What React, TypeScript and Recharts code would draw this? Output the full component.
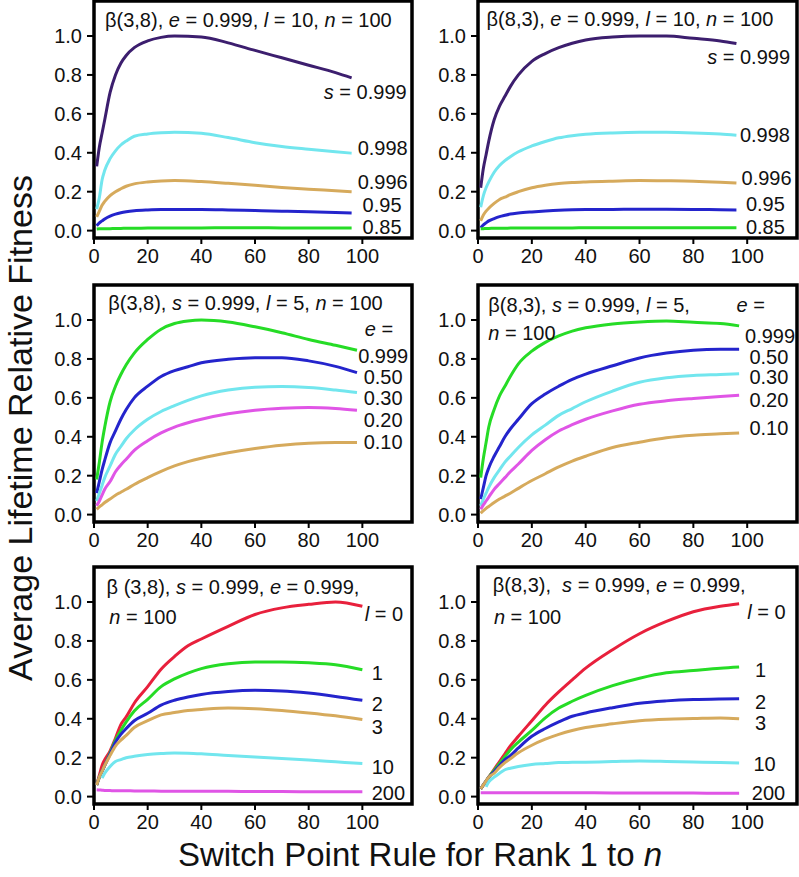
import React from 'react'
import { LineChart, Line, XAxis, YAxis, ReferenceArea, ReferenceDot } from 'recharts'

const FONT = '"Liberation Sans", Arial, Helvetica, sans-serif'

const PURPLE = '#3c1e6e'
const CYAN = '#72e6ee'
const TAN = '#d6aa5c'
const BLUE = '#2424cc'
const GREEN = '#26dc26'
const MAGENTA = '#e055e6'
const RED = '#e8203c'

const X_TICKS = [0, 20, 40, 60, 80, 100]
const Y_TICKS = [0, 0.2, 0.4, 0.6, 0.8, 1.0]
const X_MAX = 118.5
const Y_MIN = -0.038
const Y_MAX = 1.18

// top left: beta(3,8), e = 0.999, l = 10, n = 100
const p1X = [1, 2, 3, 4, 6, 8, 10, 12, 15, 20, 25, 30, 40, 50, 60, 70, 80, 90, 96]
const p1S999 = [0.33, 0.43, 0.5, 0.57, 0.71, 0.8, 0.86, 0.9, 0.94, 0.975, 0.993, 1.0, 0.995, 0.965, 0.926, 0.888, 0.85, 0.812, 0.785]
const p1S998 = [0.11, 0.17, 0.26, 0.31, 0.37, 0.41, 0.44, 0.46, 0.485, 0.497, 0.503, 0.506, 0.5, 0.478, 0.452, 0.432, 0.418, 0.405, 0.398]
const p1S996 = [0.07, 0.1, 0.13, 0.15, 0.18, 0.2, 0.215, 0.228, 0.24, 0.25, 0.255, 0.257, 0.252, 0.243, 0.233, 0.222, 0.213, 0.205, 0.2]
const p1S95 = [0.025, 0.04, 0.05, 0.06, 0.075, 0.085, 0.092, 0.097, 0.102, 0.106, 0.108, 0.108, 0.108, 0.106, 0.103, 0.1, 0.097, 0.093, 0.09]
const p1S85 = [0.008, 0.009, 0.009, 0.01, 0.01, 0.011, 0.011, 0.012, 0.012, 0.013, 0.013, 0.014, 0.014, 0.015, 0.015, 0.014, 0.014, 0.013, 0.013]

// top right: beta(8,3), e = 0.999, l = 10, n = 100
const p2X = [1, 2, 3, 4, 6, 8, 10, 12, 15, 20, 25, 30, 35, 40, 50, 60, 70, 80, 90, 96]
const p2S999 = [0.22, 0.32, 0.39, 0.46, 0.57, 0.64, 0.69, 0.74, 0.8, 0.87, 0.91, 0.94, 0.963, 0.98, 0.995, 1.0, 1.0, 0.988, 0.975, 0.962]
const p2S998 = [0.12, 0.18, 0.22, 0.25, 0.3, 0.335, 0.36, 0.38, 0.405, 0.435, 0.458, 0.477, 0.488, 0.495, 0.502, 0.505, 0.505, 0.502, 0.496, 0.49]
const p2S996 = [0.05, 0.08, 0.1, 0.115, 0.14, 0.16, 0.172, 0.185, 0.2, 0.22, 0.233, 0.242, 0.247, 0.25, 0.254, 0.257, 0.256, 0.254, 0.249, 0.245]
const p2S95 = [0.015, 0.03, 0.04, 0.05, 0.062, 0.072, 0.079, 0.085, 0.09, 0.096, 0.101, 0.105, 0.107, 0.108, 0.109, 0.11, 0.11, 0.109, 0.107, 0.106]
const p2S85 = [0.01, 0.01, 0.011, 0.011, 0.012, 0.012, 0.012, 0.013, 0.013, 0.013, 0.014, 0.014, 0.014, 0.015, 0.015, 0.015, 0.015, 0.015, 0.015, 0.015]

// middle left: beta(3,8), s = 0.999, l = 5, n = 100
const p3X = [1, 2, 3, 4, 6, 8, 10, 12, 15, 20, 25, 30, 35, 40, 50, 60, 70, 80, 90, 98]
const p3E999 = [0.18, 0.27, 0.37, 0.45, 0.58, 0.66, 0.72, 0.77, 0.83, 0.9, 0.953, 0.982, 0.995, 1.0, 0.99, 0.965, 0.935, 0.9, 0.87, 0.845]
const p3E50 = [0.11, 0.17, 0.23, 0.28, 0.37, 0.43, 0.49, 0.54, 0.6, 0.66, 0.71, 0.74, 0.76, 0.78, 0.798, 0.806, 0.806, 0.79, 0.762, 0.73]
const p3E30 = [0.07, 0.11, 0.15, 0.19, 0.25, 0.31, 0.35, 0.39, 0.435, 0.49, 0.53, 0.56, 0.587, 0.61, 0.64, 0.655, 0.658, 0.653, 0.64, 0.627]
const p3E20 = [0.045, 0.07, 0.1, 0.13, 0.17, 0.22, 0.255, 0.285, 0.33, 0.38, 0.42, 0.45, 0.472, 0.49, 0.518, 0.536, 0.546, 0.55, 0.545, 0.536]
const p3E10 = [0.027, 0.04, 0.05, 0.062, 0.08, 0.1, 0.115, 0.13, 0.155, 0.19, 0.222, 0.25, 0.272, 0.29, 0.318, 0.34, 0.357, 0.367, 0.37, 0.37]

// middle right: beta(8,3), s = 0.999, l = 5, n = 100
const p4X = [1, 2, 3, 4, 6, 8, 10, 12, 15, 20, 25, 30, 35, 40, 50, 60, 70, 80, 90, 97]
const p4E999 = [0.19, 0.29, 0.37, 0.45, 0.54, 0.61, 0.66, 0.71, 0.775, 0.84, 0.885, 0.918, 0.943, 0.96, 0.98, 0.99, 0.995, 0.988, 0.982, 0.97]
const p4E50 = [0.08, 0.14, 0.2, 0.24, 0.3, 0.35, 0.4, 0.44, 0.49, 0.57, 0.62, 0.66, 0.695, 0.722, 0.765, 0.805, 0.83, 0.845, 0.85, 0.85]
const p4E30 = [0.045, 0.08, 0.11, 0.14, 0.19, 0.23, 0.27, 0.3, 0.345, 0.41, 0.46, 0.51, 0.545, 0.58, 0.635, 0.68, 0.703, 0.715, 0.72, 0.724]
const p4E20 = [0.027, 0.05, 0.07, 0.09, 0.13, 0.16, 0.19, 0.22, 0.26, 0.33, 0.385, 0.43, 0.462, 0.49, 0.533, 0.567, 0.585, 0.597, 0.607, 0.613]
const p4E10 = [0.007, 0.02, 0.032, 0.042, 0.062, 0.08, 0.095, 0.11, 0.135, 0.175, 0.21, 0.245, 0.275, 0.3, 0.345, 0.372, 0.395, 0.408, 0.415, 0.42]

// bottom left: beta(3,8), s = 0.999, e = 0.999, n = 100
const p5X = [1, 2, 3, 4, 6, 8, 10, 12, 15, 20, 25, 30, 35, 40, 50, 60, 70, 80, 90, 100]
const p5L0 = [0.06, 0.11, 0.16, 0.19, 0.235, 0.3, 0.37, 0.41, 0.48, 0.565, 0.655, 0.72, 0.775, 0.81, 0.875, 0.936, 0.97, 0.988, 1.0, 0.978]
const p5L1 = [0.06, 0.1, 0.13, 0.16, 0.225, 0.29, 0.34, 0.384, 0.44, 0.5, 0.565, 0.605, 0.635, 0.658, 0.683, 0.692, 0.692, 0.688, 0.678, 0.652]
const p5L2 = [0.06, 0.1, 0.13, 0.16, 0.22, 0.28, 0.32, 0.35, 0.39, 0.428, 0.47, 0.495, 0.512, 0.525, 0.54, 0.546, 0.543, 0.532, 0.515, 0.495]
const p5L3 = [0.06, 0.1, 0.13, 0.16, 0.212, 0.26, 0.29, 0.315, 0.355, 0.39, 0.42, 0.432, 0.443, 0.448, 0.455, 0.452, 0.443, 0.43, 0.415, 0.396]
const p5L10 = [null, null, 0.095, 0.12, 0.155, 0.18, 0.19, 0.2, 0.207, 0.216, 0.221, 0.224, 0.223, 0.22, 0.211, 0.203, 0.196, 0.188, 0.179, 0.17]
const p5L200 = [0.035, 0.034, 0.033, 0.032, 0.031, 0.03, 0.03, 0.03, 0.029, 0.029, 0.028, 0.028, 0.028, 0.027, 0.027, 0.026, 0.026, 0.025, 0.025, 0.025]

// bottom right: beta(8,3), s = 0.999, e = 0.999, n = 100
const p6X = [1, 2, 3, 4, 6, 8, 10, 12, 15, 20, 25, 30, 35, 40, 50, 60, 70, 80, 90, 97]
const p6L0 = [0.04, 0.06, 0.08, 0.1, 0.14, 0.18, 0.22, 0.26, 0.31, 0.39, 0.47, 0.538, 0.6, 0.66, 0.755, 0.837, 0.9, 0.95, 0.978, 0.991]
const p6L1 = [0.04, 0.06, 0.08, 0.1, 0.135, 0.17, 0.205, 0.24, 0.28, 0.34, 0.405, 0.455, 0.49, 0.52, 0.57, 0.608, 0.636, 0.648, 0.66, 0.666]
const p6L2 = [0.04, 0.06, 0.08, 0.1, 0.128, 0.16, 0.19, 0.21, 0.25, 0.31, 0.35, 0.384, 0.413, 0.43, 0.457, 0.48, 0.492, 0.499, 0.502, 0.503]
const p6L3 = [0.04, 0.06, 0.08, 0.1, 0.12, 0.15, 0.175, 0.195, 0.225, 0.264, 0.295, 0.32, 0.34, 0.355, 0.374, 0.39, 0.398, 0.401, 0.404, 0.4]
const p6L10 = [null, null, 0.05, 0.075, 0.1, 0.12, 0.138, 0.146, 0.155, 0.165, 0.17, 0.175, 0.176, 0.177, 0.18, 0.183, 0.181, 0.178, 0.175, 0.173]
const p6L200 = [0.02, 0.02, 0.02, 0.02, 0.02, 0.02, 0.02, 0.02, 0.02, 0.02, 0.02, 0.02, 0.02, 0.02, 0.019, 0.019, 0.018, 0.018, 0.017, 0.017]

type Part = [string, boolean?]
type Note = { parts: Part[]; x: number; y: number; anchor?: 'start' | 'end' }
type Series = { key: string; color: string; values: (number | null)[] }

const rowsOf = (xs: number[], series: Series[]) =>
  xs.map((x, i) => {
    const row: Record<string, number | null> = { x }
    series.forEach((s) => (row[s.key] = s.values[i]))
    return row
  })

function RichText({ cx, cy, parts, anchor }: { cx: number; cy: number; parts: Part[]; anchor: string }) {
  return (
    <text x={cx} y={cy} textAnchor={anchor} dominantBaseline="central" fontSize={20} fontFamily={FONT} fill="#111" style={{ whiteSpace: 'pre' }}>
      {parts.map(([t, it], i) => (
        <tspan key={i} fontStyle={it ? 'italic' : 'normal'}>{t}</tspan>
      ))}
    </text>
  )
}

const num = (t: string, x: number, y: number, anchor: 'start' | 'end' = 'end'): Note => ({ parts: [[t]], x, y, anchor })

function Panel({ left, top, plotW, series, xs, notes }: { left: number; top: number; plotW: number; series: Series[]; xs: number[]; notes: Note[] }) {
  const data = rowsOf(xs, series)
  return (
    <div style={{ position: 'absolute', left, top }}>
      <LineChart width={64 + plotW + 4} height={277} data={data} margin={{ top: 6, right: 4, bottom: 4, left: 0 }}>
        <XAxis
          dataKey="x"
          type="number"
          domain={[0, X_MAX]}
          ticks={X_TICKS}
          interval={0}
          height={30}
          axisLine={false}
          tickSize={6}
          tickMargin={5}
          tickLine={{ stroke: '#000', strokeWidth: 2 }}
          tick={{ fill: '#111', fontSize: 20, fontFamily: FONT }}
        />
        <YAxis
          type="number"
          domain={[Y_MIN, Y_MAX]}
          ticks={Y_TICKS}
          interval={0}
          width={64}
          allowDataOverflow
          axisLine={false}
          tickSize={7}
          tickMargin={5}
          tickFormatter={(v: number) => v.toFixed(1)}
          tickLine={{ stroke: '#000', strokeWidth: 2 }}
          tick={{ fill: '#111', fontSize: 20, fontFamily: FONT }}
        />
        {series.map((s) => (
          <Line key={s.key} dataKey={s.key} type="monotone" stroke={s.color} strokeWidth={3} dot={false} isAnimationActive={false} />
        ))}
        <ReferenceArea x1={0} x2={X_MAX} y1={Y_MIN} y2={Y_MAX} fill="none" stroke="#000" strokeWidth={3.5} />
        {notes.map((n, i) => (
          <ReferenceDot
            key={i}
            x={n.x}
            y={n.y}
            r={0}
            shape={(p: any) => <RichText cx={p.cx} cy={p.cy} parts={n.parts} anchor={n.anchor ?? 'end'} />}
          />
        ))}
      </LineChart>
    </div>
  )
}

const LEFT = 30
const RIGHT = 414
const ROWS = [-5, 279, 561]

export default function App() {
  return (
    <div style={{ position: 'absolute', left: 0, top: 0, width: 799, height: 877, overflow: 'hidden', background: '#fff' }}>
      <Panel
        left={LEFT}
        top={ROWS[0]}
        plotW={318}
        xs={p1X}
        series={[
          { key: 's999', color: PURPLE, values: p1S999 },
          { key: 's998', color: CYAN, values: p1S998 },
          { key: 's996', color: TAN, values: p1S996 },
          { key: 's95', color: BLUE, values: p1S95 },
          { key: 's85', color: GREEN, values: p1S85 },
        ]}
        notes={[
          { parts: [['β(3,8), '], ['e', true], [' = 0.999, '], ['l', true], [' = 10, '], ['n', true], [' = 100']], x: 4.1, y: 1.082, anchor: 'start' },
          { parts: [['s', true], [' = 0.999']], x: 116.5, y: 0.714 },
          num('0.998', 116.9, 0.423),
          num('0.996', 116.9, 0.251),
          num('0.95', 114.6, 0.132),
          num('0.85', 114.6, 0.02),
        ]}
      />
      <Panel
        left={RIGHT}
        top={ROWS[0]}
        plotW={319}
        xs={p2X}
        series={[
          { key: 's999', color: PURPLE, values: p2S999 },
          { key: 's998', color: CYAN, values: p2S998 },
          { key: 's996', color: TAN, values: p2S996 },
          { key: 's95', color: BLUE, values: p2S95 },
          { key: 's85', color: GREEN, values: p2S85 },
        ]}
        notes={[
          { parts: [['β(8,3), '], ['e', true], [' = 0.999, '], ['l', true], [' = 10, '], ['n', true], [' = 100']], x: 3.2, y: 1.086, anchor: 'start' },
          { parts: [['s', true], [' = 0.999']], x: 115.9, y: 0.894 },
          num('0.998', 115.9, 0.491),
          num('0.996', 116.5, 0.269),
          num('0.95', 114, 0.137),
          num('0.85', 114, 0.02),
        ]}
      />
      <Panel
        left={LEFT}
        top={ROWS[1]}
        plotW={318}
        xs={p3X}
        series={[
          { key: 'e999', color: GREEN, values: p3E999 },
          { key: 'e50', color: BLUE, values: p3E50 },
          { key: 'e30', color: CYAN, values: p3E30 },
          { key: 'e20', color: MAGENTA, values: p3E20 },
          { key: 'e10', color: TAN, values: p3E10 },
        ]}
        notes={[
          { parts: [['β(3,8), '], ['s', true], [' = 0.999, '], ['l', true], [' = 5, '], ['n', true], [' = 100']], x: 5.3, y: 1.086, anchor: 'start' },
          { parts: [['e', true], [' =']], x: 111.5, y: 0.952 },
          num('0.999', 117.1, 0.815),
          num('0.50', 115, 0.705),
          num('0.30', 115, 0.598),
          num('0.20', 115, 0.486),
          num('0.10', 115, 0.371),
        ]}
      />
      <Panel
        left={RIGHT}
        top={ROWS[1]}
        plotW={319}
        xs={p4X}
        series={[
          { key: 'e999', color: GREEN, values: p4E999 },
          { key: 'e50', color: BLUE, values: p4E50 },
          { key: 'e30', color: CYAN, values: p4E30 },
          { key: 'e20', color: MAGENTA, values: p4E20 },
          { key: 'e10', color: TAN, values: p4E10 },
        ]}
        notes={[
          { parts: [['β(8,3), '], ['s', true], [' = 0.999, '], ['l', true], [' = 5,']], x: 3.8, y: 1.077, anchor: 'start' },
          { parts: [['n', true], [' = 100']], x: 3.8, y: 0.932, anchor: 'start' },
          { parts: [['e', true], [' =']], x: 106.6, y: 1.077 },
          num('0.999', 117.8, 0.918),
          num('0.50', 115.3, 0.81),
          num('0.30', 115.3, 0.706),
          num('0.20', 115.3, 0.589),
          num('0.10', 115.3, 0.443),
        ]}
      />
      <Panel
        left={LEFT}
        top={ROWS[2]}
        plotW={318}
        xs={p5X}
        series={[
          { key: 'l0', color: RED, values: p5L0 },
          { key: 'l1', color: GREEN, values: p5L1 },
          { key: 'l2', color: BLUE, values: p5L2 },
          { key: 'l3', color: TAN, values: p5L3 },
          { key: 'l10', color: CYAN, values: p5L10 },
          { key: 'l200', color: MAGENTA, values: p5L200 },
        ]}
        notes={[
          { parts: [['β (3,8), '], ['s', true], [' = 0.999, '], ['e', true], [' = 0.999,']], x: 4.7, y: 1.079, anchor: 'start' },
          { parts: [['n', true], [' = 100']], x: 5.7, y: 0.921, anchor: 'start' },
          { parts: [['l', true], [' = 0']], x: 115.2, y: 0.938 },
          num('1', 103.5, 0.634, 'start'),
          num('2', 103.5, 0.476, 'start'),
          num('3', 103.5, 0.359, 'start'),
          num('10', 103.5, 0.15, 'start'),
          num('200', 103.5, 0.017, 'start'),
        ]}
      />
      <Panel
        left={RIGHT}
        top={ROWS[2]}
        plotW={319}
        xs={p6X}
        series={[
          { key: 'l0', color: RED, values: p6L0 },
          { key: 'l1', color: GREEN, values: p6L1 },
          { key: 'l2', color: BLUE, values: p6L2 },
          { key: 'l3', color: TAN, values: p6L3 },
          { key: 'l10', color: CYAN, values: p6L10 },
          { key: 'l200', color: MAGENTA, values: p6L200 },
        ]}
        notes={[
          { parts: [['β(8,3),  '], ['s', true], [' = 0.999, '], ['e', true], [' = 0.999,']], x: 5.5, y: 1.087, anchor: 'start' },
          { parts: [['n', true], [' = 100']], x: 5.9, y: 0.921, anchor: 'start' },
          { parts: [['l', true], [' = 0']], x: 114.3, y: 0.95 },
          num('1', 102.9, 0.651, 'start'),
          num('2', 102.9, 0.488, 'start'),
          num('3', 102.9, 0.377, 'start'),
          num('10', 102.3, 0.168, 'start'),
          num('200', 101.7, 0.017, 'start'),
        ]}
      />
      <svg width={799} height={877} style={{ position: 'absolute', left: 0, top: 0, pointerEvents: 'none' }}>
        <text transform="translate(32,428) rotate(-90)" textAnchor="middle" fontSize={34} fontFamily={FONT} fill="#111">
          Average Lifetime Relative Fitness
        </text>
        <text x={420} y={866} textAnchor="middle" fontSize={33} fontFamily={FONT} fill="#111" style={{ whiteSpace: 'pre' }}>
          <tspan>Switch Point Rule for Rank 1 to </tspan>
          <tspan fontStyle="italic">n</tspan>
        </text>
      </svg>
    </div>
  )
}
